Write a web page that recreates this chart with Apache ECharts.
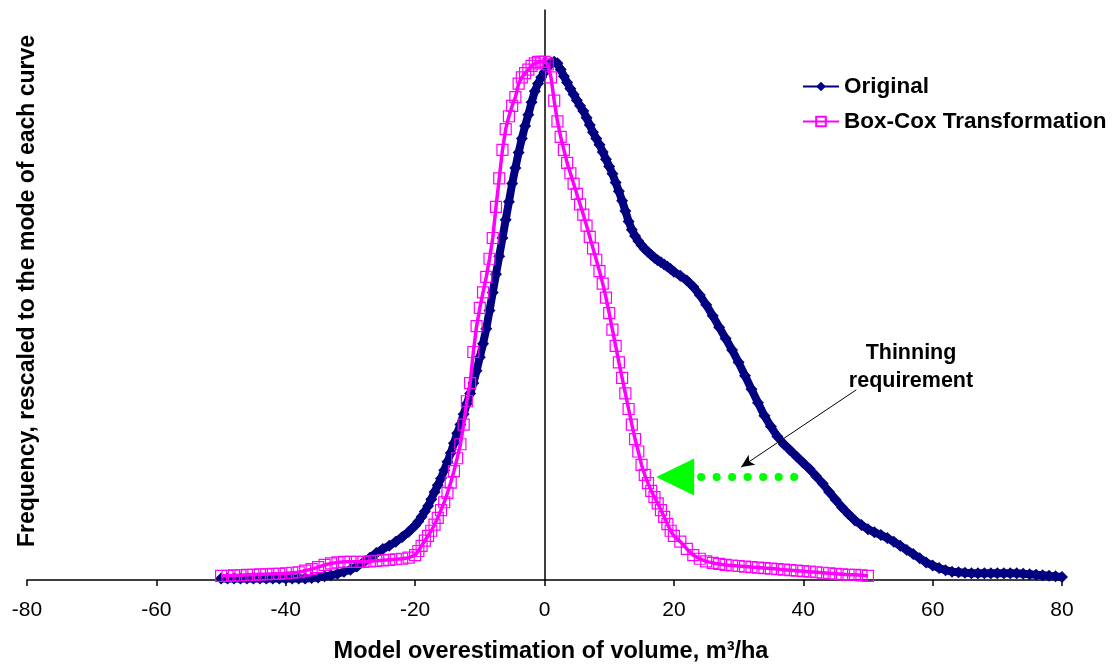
<!DOCTYPE html>
<html>
<head>
<meta charset="utf-8">
<script src="https://cdn.jsdelivr.net/npm/echarts@6/dist/echarts.min.js"></script>
<style>
  html, body { margin: 0; padding: 0; background: #fff; }
  #chart { width: 1115px; height: 664px; }
</style>
</head>
<body>
<div id="chart"></div>
<script>
// x positions of the density curves (m3/ha)
var origX = [
  -50, -49, -48, -47, -46, -45, -44, -43, -42, -41,
  -40, -39, -38, -37, -36, -35, -34, -33, -32, -31,
  -30, -29, -28, -27, -26, -25, -24, -23, -22, -21,
  -20, -19.5, -19, -18.5, -18, -17.5, -17, -16.5, -16, -15.5,
  -15, -14.5, -14, -13.5, -13, -12.5, -12, -11.5, -11, -10.5,
  -10, -9.5, -9, -8.5, -8, -7.5, -7, -6.5, -6, -5.5,
  -5, -4.5, -4, -3.5, -3, -2.5, -2, -1.5, -1, -0.5,
  0, 0.5, 1, 1.5, 2, 2.5, 3, 3.5, 4, 4.5,
  5, 5.5, 6, 6.5, 7, 7.5, 8, 8.5, 9, 9.5,
  10, 10.5, 11, 11.5, 12, 12.5, 13, 13.5, 14, 14.5,
  15, 15.5, 16, 16.5, 17, 17.5, 18, 18.5, 19, 19.5,
  20, 21, 22, 23, 24, 25, 26, 27, 28, 29,
  30, 31, 32, 33, 34, 35, 36, 37, 38, 39,
  40, 41, 42, 43, 44, 45, 46, 47, 48, 49,
  50, 51, 52, 53, 54, 55, 56, 57, 58, 59,
  60, 61, 62, 63, 64, 65, 66, 67, 68, 69,
  70, 71, 72, 73, 74, 75, 76, 77, 78, 79,
  80
];
var origY = [
  0.003, 0.003, 0.003, 0.003, 0.003, 0.003, 0.003, 0.003, 0.003, 0.003,
  0.003, 0.003, 0.003, 0.003, 0.004, 0.005, 0.007, 0.009, 0.012, 0.016,
  0.020, 0.026, 0.034, 0.043, 0.052, 0.060, 0.066, 0.074, 0.083, 0.093,
  0.105, 0.113, 0.122, 0.132, 0.143, 0.156, 0.170, 0.183, 0.196, 0.212,
  0.228, 0.245, 0.264, 0.283, 0.300, 0.320, 0.340, 0.360, 0.380, 0.404,
  0.430, 0.456, 0.485, 0.520, 0.555, 0.590, 0.625, 0.660, 0.695, 0.730,
  0.765, 0.795, 0.825, 0.852, 0.876, 0.898, 0.922, 0.943, 0.958, 0.970,
  0.980, 0.990, 0.998, 1.000, 0.997, 0.985, 0.972, 0.960, 0.948, 0.937,
  0.926, 0.915, 0.905, 0.892, 0.878, 0.864, 0.852, 0.840, 0.826, 0.812,
  0.798, 0.784, 0.767, 0.750, 0.732, 0.712, 0.692, 0.676, 0.664, 0.654,
  0.646, 0.639, 0.633, 0.627, 0.622, 0.617, 0.613, 0.609, 0.605, 0.600,
  0.595, 0.587, 0.578, 0.566, 0.550, 0.531, 0.510, 0.488, 0.466, 0.444,
  0.420, 0.394, 0.368, 0.342, 0.317, 0.296, 0.277, 0.262, 0.250, 0.238,
  0.226, 0.214, 0.200, 0.186, 0.170, 0.155, 0.140, 0.127, 0.115, 0.106,
  0.098, 0.092, 0.087, 0.081, 0.074, 0.066, 0.058, 0.050, 0.042, 0.034,
  0.028, 0.023, 0.019, 0.016, 0.015, 0.014, 0.013, 0.013, 0.013, 0.013,
  0.013, 0.013, 0.013, 0.013, 0.012, 0.011, 0.010, 0.009, 0.008, 0.007,
  0.006
];

var boxX = [
  -50, -49, -48, -47, -46, -45, -44, -43, -42, -41,
  -40, -39, -38, -37, -36, -35, -34, -33, -32, -31,
  -30, -29, -28, -27, -26, -25, -24, -23, -22, -21,
  -20, -19.5, -19, -18.5, -18, -17.5, -17, -16.5, -16, -15.5,
  -15, -14.5, -14, -13.5, -13, -12.5, -12, -11.5, -11, -10.5,
  -10, -9.5, -9, -8.5, -8, -7.5, -7, -6.5, -6, -5.5,
  -5, -4.5, -4, -3.5, -3, -2.5, -2, -1.5, -1, -0.5,
  0, 0.5, 1, 1.5, 2, 2.5, 3, 3.5, 4, 4.5,
  5, 5.5, 6, 6.5, 7, 7.5, 8, 8.5, 9, 9.5,
  10, 10.5, 11, 11.5, 12, 12.5, 13, 13.5, 14, 14.5,
  15, 15.5, 16, 16.5, 17, 17.5, 18, 18.5, 19, 19.5,
  20, 21, 22, 23, 24, 25, 26, 27, 28, 29,
  30, 31, 32, 33, 34, 35, 36, 37, 38, 39,
  40, 41, 42, 43, 44, 45, 46, 47, 48, 49,
  50
];
var boxY = [
  0.008, 0.008, 0.009, 0.009, 0.010, 0.010, 0.011, 0.011, 0.012, 0.012,
  0.013, 0.014, 0.015, 0.018, 0.021, 0.025, 0.029, 0.032, 0.034, 0.035,
  0.035, 0.035, 0.035, 0.036, 0.037, 0.038, 0.039, 0.040, 0.041, 0.043,
  0.048, 0.056, 0.066, 0.076, 0.085, 0.095, 0.107, 0.120, 0.135, 0.150,
  0.168, 0.188, 0.210, 0.235, 0.262, 0.300, 0.345, 0.380, 0.440, 0.490,
  0.525, 0.555, 0.585, 0.620, 0.660, 0.720, 0.775, 0.830, 0.870, 0.895,
  0.915, 0.932, 0.958, 0.970, 0.978, 0.985, 0.992, 0.997, 1.000, 1.000,
  1.000, 0.995, 0.970, 0.925, 0.885, 0.855, 0.830, 0.805, 0.785, 0.765,
  0.745, 0.725, 0.705, 0.684, 0.662, 0.640, 0.618, 0.596, 0.572, 0.545,
  0.515, 0.483, 0.452, 0.420, 0.390, 0.360, 0.330, 0.300, 0.272, 0.248,
  0.222, 0.203, 0.187, 0.172, 0.160, 0.148, 0.135, 0.122, 0.108, 0.095,
  0.085, 0.074, 0.060, 0.048, 0.041, 0.036, 0.033, 0.031, 0.029, 0.028,
  0.027, 0.026, 0.025, 0.024, 0.023, 0.022, 0.021, 0.020, 0.019, 0.018,
  0.017, 0.016, 0.015, 0.014, 0.013, 0.012, 0.011, 0.010, 0.010, 0.009,
  0.008
];

var seriesNames = ["Original", "Box-Cox Transformation"];

// annotation anchors in data units
var thinArrowFrom = [38.6, 0.199];
var thinArrowTo = [20.2, 0.199];
var pointerFrom = [48.2, 0.367];
var pointerTo = [30.4, 0.218];

var font = "'Liberation Sans', Arial, sans-serif";

function pairs(xs, ys) {
	return xs.map(function (x, i) {
		return [x, ys[i]];
	});
}

var chart = echarts.init(document.getElementById("chart"), null, { renderer: "canvas" });

var option = {
	animation: false,
	backgroundColor: "#fff",
	grid: { left: 27, right: 53, top: 10, bottom: 84, outerBoundsMode: "none" },
	legend: {
		orient: "vertical",
		left: 797,
		top: 70,
		itemWidth: 36,
		itemHeight: 12,
		itemGap: 12,
		selectedMode: false,
		textStyle: { fontFamily: font, fontSize: 22.5, fontWeight: "bold", color: "#000" },
		data: seriesNames,
	},
	xAxis: {
		type: "value",
		min: -80,
		max: 80,
		interval: 20,
		name: "Model overestimation of volume, m³/ha",
		nameLocation: "middle",
		nameGap: 60,
		nameTextStyle: {
			fontFamily: font,
			fontSize: 23.5,
			fontWeight: "bold",
			color: "#000",
			padding: [0, 0, 0, 13],
		},
		axisLine: { onZero: true, lineStyle: { color: "#000", width: 1.5 } },
		axisTick: { show: true, length: 6, lineStyle: { color: "#000", width: 1.5 } },
		axisLabel: { fontFamily: font, fontSize: 21, color: "#000", margin: 20 },
		splitLine: { show: false },
	},
	yAxis: {
		type: "value",
		min: 0,
		max: 1.1,
		axisLine: { show: true, onZero: true, lineStyle: { color: "#000", width: 1.5 } },
		axisTick: { show: false },
		axisLabel: { show: false },
		splitLine: { show: false },
	},
	graphic: [
		{
			type: "text",
			x: 28,
			y: 291,
			rotation: Math.PI / 2,
			style: {
				text: "Frequency, rescaled to the mode of each curve",
				fontFamily: font,
				fontSize: 23,
				fontWeight: "bold",
				fill: "#000",
				align: "center",
				verticalAlign: "middle",
			},
		},
		{
			type: "text",
			x: 911,
			y: 367,
			style: {
				text: "Thinning\nrequirement",
				fontFamily: font,
				fontSize: 21.5,
				fontWeight: "bold",
				lineHeight: 28,
				fill: "#000",
				align: "center",
				verticalAlign: "middle",
			},
		},
	],
	series: [
		{
			name: seriesNames[0],
			type: "line",
			data: pairs(origX, origY),
			symbol: "diamond",
			symbolSize: 12,
			showAllSymbol: true,
			color: "#000080",
			itemStyle: { color: "#000080" },
			lineStyle: { color: "#000080", width: 8, join: "round" },
			z: 2,
			markLine: {
				silent: true,
				animation: false,
				label: { show: false },
				emphasis: { disabled: true },
				data: [
					[
						{
							coord: thinArrowFrom,
							symbol: "none",
							lineStyle: { color: "#00ff00", width: 8, type: [0.1, 15.4], cap: "round" },
						},
						{ coord: thinArrowTo, symbol: "triangle", symbolSize: [37, 38] },
					],
					[
						{
							coord: pointerFrom,
							symbol: "none",
							lineStyle: { color: "#000", width: 1, type: "solid" },
						},
						{ coord: pointerTo, symbol: "arrow", symbolSize: [9, 13] },
					],
				],
			},
		},
		{
			name: seriesNames[1],
			type: "line",
			data: pairs(boxX, boxY),
			symbol: "rect",
			symbolSize: 11,
			showAllSymbol: true,
			color: "#ff00ff",
			itemStyle: { color: "rgba(255,255,255,0)", borderColor: "#ff00ff", borderWidth: 1.2 },
			lineStyle: { color: "#ff00ff", width: 3.5 },
			z: 3,
		},
	],
};

chart.setOption(option);
</script>
</body>
</html>
